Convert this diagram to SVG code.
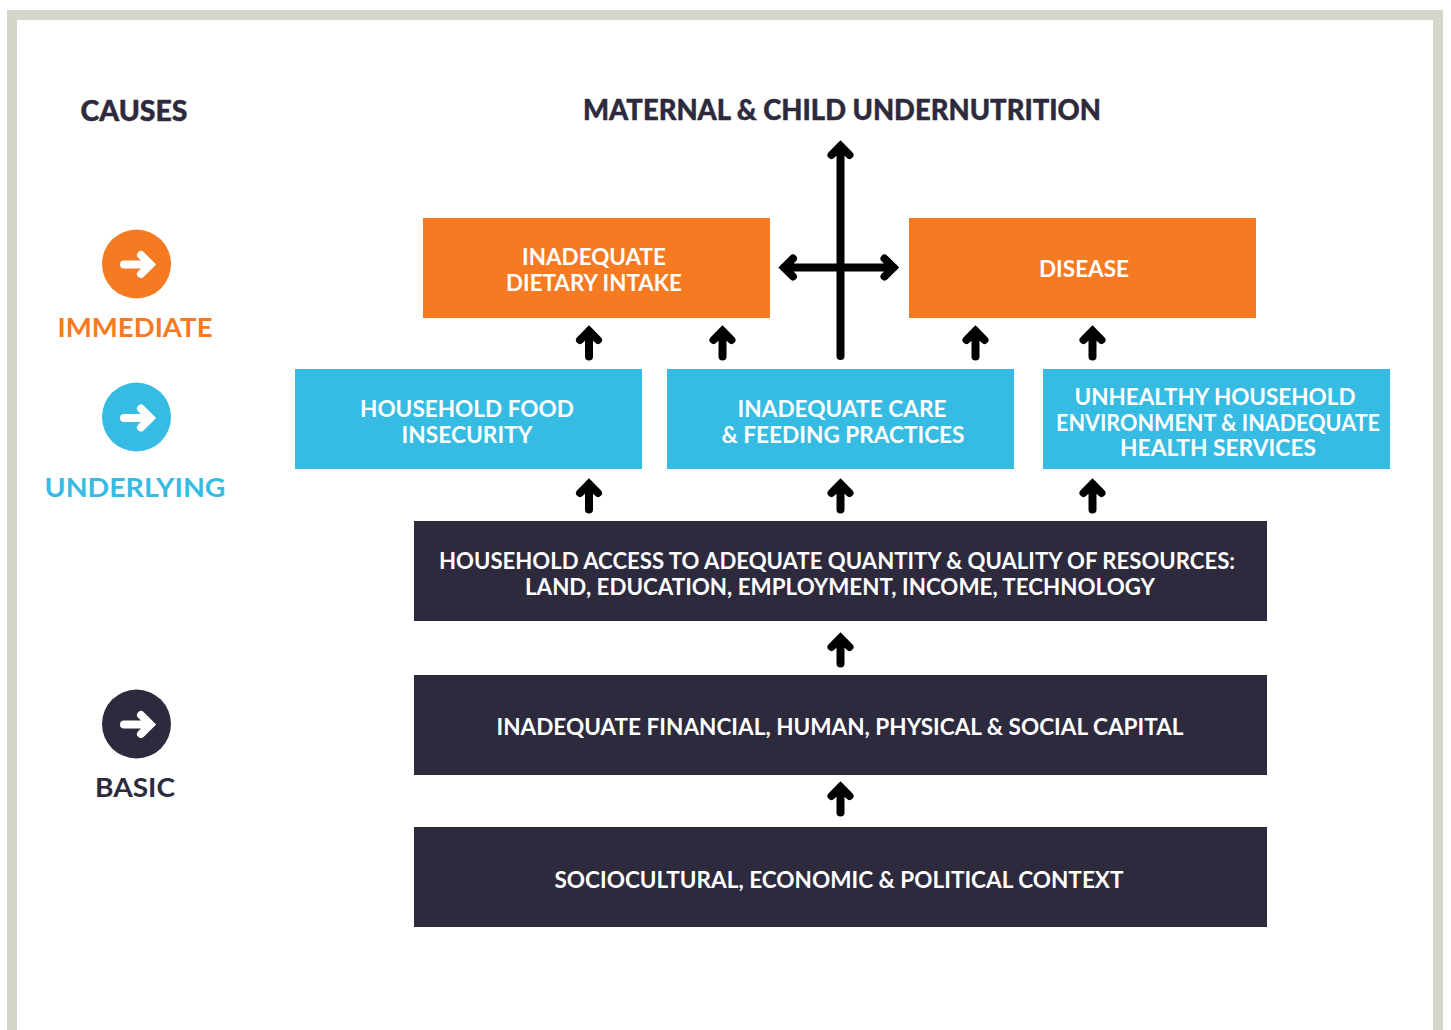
<svg xmlns="http://www.w3.org/2000/svg" width="1451" height="1030" viewBox="0 0 1451 1030">
<style>
text{font-family:"Lato","Liberation Sans",sans-serif;font-weight:700;text-anchor:middle;font-size:23px;fill:#fff}
.h{font-size:28px;fill:#2d2a3e;font-weight:900;stroke:#2d2a3e;stroke-width:.4}
.a{fill:none;stroke:#000;stroke-width:8;stroke-linecap:round;stroke-linejoin:miter}
.w{fill:none;stroke:#fff;stroke-width:8;stroke-linecap:round;stroke-linejoin:miter}
.o{fill:#f67a22}.b{fill:#36bbe3}.d{fill:#2d2a3e}
.lbl{font-size:27.500px}
</style>
<defs>
<path id="up" class="a" d="M0 25.500V0M-9 9L0 0L9 9"/>
<g id="ic"><path class="w" d="M-14 0H12M3 -9.500L12.500 0L3 9.500"/></g>
</defs>
<rect width="1451" height="1030" fill="#fff"/>
<path id="frame" d="M12 1030V15H1438V1030" fill="none" stroke="#d5d6ca" stroke-width="10"/>
<g id="causes"><text class="h" x="134" y="120.500" textLength="107" lengthAdjust="spacingAndGlyphs">CAUSES</text></g>
<g id="outcome"><text class="h" x="842" y="119.500" textLength="518" lengthAdjust="spacingAndGlyphs">MATERNAL &amp; CHILD UNDERNUTRITION</text></g>
<g id="immediate"><circle class="o" cx="136.500" cy="264" r="34.500"/><use href="#ic" x="138" y="264.500"/><text class="lbl" x="135" y="337" style="fill:#f67a22" textLength="155" lengthAdjust="spacingAndGlyphs">IMMEDIATE</text></g>
<g id="underlying"><circle class="b" cx="136.500" cy="417" r="34.500"/><use href="#ic" x="138" y="418"/><text class="lbl" x="135" y="497" style="fill:#36bbe3" textLength="181" lengthAdjust="spacingAndGlyphs">UNDERLYING</text></g>
<g id="basic"><circle class="d" cx="136.500" cy="724" r="34.500"/><use href="#ic" x="138" y="724.500"/><text class="lbl" x="135" y="797" style="fill:#2d2a3e" textLength="80" lengthAdjust="spacingAndGlyphs">BASIC</text></g>
<g id="dietary"><rect class="o" x="423" y="218" width="347" height="100"/><text x="594" y="265" textLength="144" lengthAdjust="spacingAndGlyphs">INADEQUATE</text><text x="594" y="291" textLength="176" lengthAdjust="spacingAndGlyphs">DIETARY INTAKE</text></g>
<g id="disease"><rect class="o" x="909" y="218" width="347" height="100"/><text x="1084" y="276.500" textLength="90" lengthAdjust="spacingAndGlyphs">DISEASE</text></g>
<g id="food"><rect class="b" x="295" y="369" width="347" height="100"/><text x="467" y="416.500" textLength="214" lengthAdjust="spacingAndGlyphs">HOUSEHOLD FOOD</text><text x="467" y="442.500" textLength="131" lengthAdjust="spacingAndGlyphs">INSECURITY</text></g>
<g id="care"><rect class="b" x="667" y="369" width="347" height="100"/><text x="842" y="416.500" textLength="209" lengthAdjust="spacingAndGlyphs">INADEQUATE CARE</text><text x="843" y="442.500" textLength="243" lengthAdjust="spacingAndGlyphs">&amp; FEEDING PRACTICES</text></g>
<g id="health"><rect class="b" x="1043" y="369" width="347" height="100"/><text x="1215" y="405" textLength="281" lengthAdjust="spacingAndGlyphs">UNHEALTHY HOUSEHOLD</text><text x="1218" y="430.500" textLength="324" lengthAdjust="spacingAndGlyphs">ENVIRONMENT &amp; INADEQUATE</text><text x="1218" y="456" textLength="196" lengthAdjust="spacingAndGlyphs">HEALTH SERVICES</text></g>
<g id="access"><rect class="d" x="414" y="521" width="853" height="100"/><text x="837" y="568.500" textLength="796" lengthAdjust="spacingAndGlyphs">HOUSEHOLD ACCESS TO ADEQUATE QUANTITY &amp; QUALITY OF RESOURCES:</text><text x="840" y="594.500" textLength="630" lengthAdjust="spacingAndGlyphs">LAND, EDUCATION, EMPLOYMENT,  INCOME, TECHNOLOGY</text></g>
<g id="capital"><rect class="d" x="414" y="675" width="853" height="100"/><text x="840" y="734.500" textLength="687" lengthAdjust="spacingAndGlyphs">INADEQUATE FINANCIAL, HUMAN, PHYSICAL &amp; SOCIAL CAPITAL</text></g>
<g id="context"><rect class="d" x="414" y="827" width="853" height="100"/><text x="839" y="887.500" textLength="569" lengthAdjust="spacingAndGlyphs">SOCIOCULTURAL, ECONOMIC &amp; POLITICAL CONTEXT</text></g>
<g id="connectors">
<path class="a" d="M840.500 356V146M831.500 155L840.500 146L849.500 155M784 267.500H893.500M793 258.500L784 267.500L793 276.500M884.500 258.500L893.500 267.500L884.500 276.500"/>
<use href="#up" x="589" y="331"/><use href="#up" x="722.500" y="331"/><use href="#up" x="975.500" y="331"/><use href="#up" x="1092.500" y="331"/>
<use href="#up" x="589" y="484"/><use href="#up" x="840.500" y="484"/><use href="#up" x="1092.500" y="484"/>
<use href="#up" x="840.500" y="638"/><use href="#up" x="840.500" y="787"/>
</g>
</svg>
